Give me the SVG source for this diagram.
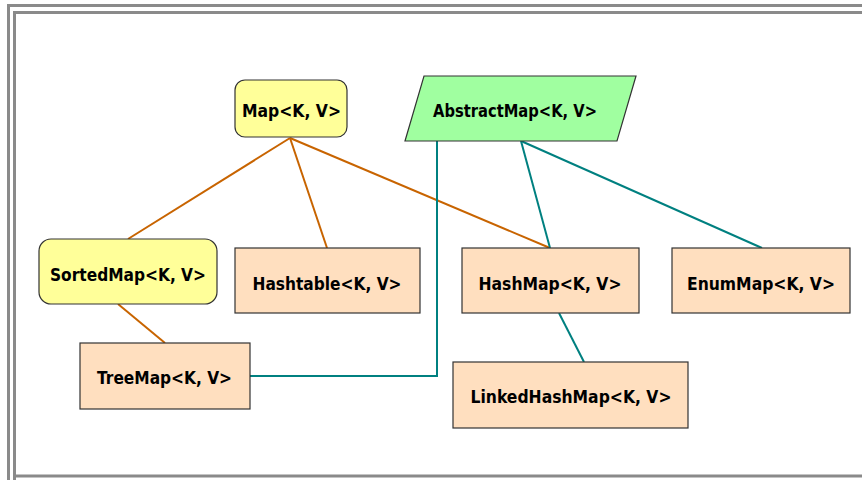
<svg xmlns="http://www.w3.org/2000/svg" width="862" height="480" viewBox="0 0 862 480">
<style>
.frame{fill:none;stroke:#8a8a8a;stroke-width:3}
.yel{fill:#ffff99;stroke:#333;stroke-width:1.2}
.grn{fill:#a0ffa0;stroke:#333;stroke-width:1.2}
.org{fill:#ffdfbf;stroke:#333;stroke-width:1.2}
.lbl{font-family:"DejaVu Sans","Liberation Sans",sans-serif;font-weight:bold;font-size:17.5px;fill:#000;text-anchor:middle}
.o{stroke:#c86400;stroke-width:2;fill:none}
.t{stroke:#008080;stroke-width:2;fill:none}
</style>
<rect x="0" y="0" width="862" height="480" fill="#fff"/>
<path class="frame" d="M8.5,480 V5.5 H862"/>
<path class="frame" d="M14.5,480 V12.5 H862 M14.5,476 H862"/>
<g id="connectors">
<line class="o" x1="290" y1="138" x2="128" y2="239"/>
<line class="o" x1="290" y1="138" x2="327" y2="248"/>
<line class="o" x1="290" y1="138" x2="550" y2="248"/>
<line class="o" x1="118" y1="304" x2="165" y2="343"/>
<polyline class="t" points="437,141 437,376 250,376"/>
<line class="t" x1="521" y1="141" x2="550" y2="248"/>
<line class="t" x1="521" y1="141" x2="762" y2="248"/>
<line class="t" x1="559" y1="313" x2="584" y2="362"/>
</g>
<g id="map"><rect class="yel" x="235" y="80" width="112" height="57" rx="10"/><text class="lbl" x="291.5" y="117" textLength="99" lengthAdjust="spacingAndGlyphs">Map&lt;K, V&gt;</text></g>
<g id="abstractmap"><polygon class="grn" points="424,76 636,76 617,141 405,141"/><text class="lbl" x="515" y="117" textLength="164" lengthAdjust="spacingAndGlyphs">AbstractMap&lt;K, V&gt;</text></g>
<g id="sortedmap"><rect class="yel" x="39" y="239" width="178" height="65" rx="12"/><text class="lbl" x="128" y="281" textLength="156" lengthAdjust="spacingAndGlyphs">SortedMap&lt;K, V&gt;</text></g>
<g id="hashtable"><rect class="org" x="235" y="248" width="185" height="65"/><text class="lbl" x="327" y="290" textLength="149" lengthAdjust="spacingAndGlyphs">Hashtable&lt;K, V&gt;</text></g>
<g id="treemap"><rect class="org" x="80" y="343" width="170" height="66"/><text class="lbl" x="164.5" y="384" textLength="135" lengthAdjust="spacingAndGlyphs">TreeMap&lt;K, V&gt;</text></g>
<g id="hashmap"><rect class="org" x="462" y="248" width="177" height="65"/><text class="lbl" x="550" y="290" textLength="143" lengthAdjust="spacingAndGlyphs">HashMap&lt;K, V&gt;</text></g>
<g id="enummap"><rect class="org" x="672" y="248" width="178" height="65"/><text class="lbl" x="761" y="290" textLength="148" lengthAdjust="spacingAndGlyphs">EnumMap&lt;K, V&gt;</text></g>
<g id="linkedhashmap"><rect class="org" x="453" y="362" width="235" height="66"/><text class="lbl" x="571" y="403" textLength="201" lengthAdjust="spacingAndGlyphs">LinkedHashMap&lt;K, V&gt;</text></g>
</svg>
